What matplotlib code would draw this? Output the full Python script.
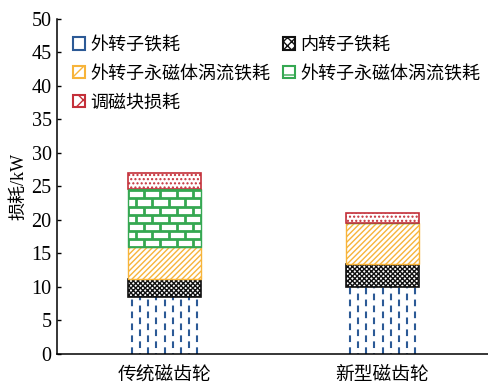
import matplotlib.pyplot as plt
import numpy as np
from matplotlib.patches import Patch

plt.rcParams['font.family'] = ['Liberation Serif', 'Noto Sans CJK SC']
plt.rcParams['font.size'] = 13
plt.rcParams['hatch.linewidth'] = 1.0
plt.rcParams['lines.scale_dashes'] = False

# losses in kW for each gear, stacked bottom to top
gears = ['传统磁齿轮', '新型磁齿轮']
outer_iron = [8.5, 10.0]
inner_iron = [2.7, 3.4]
pm_eddy_1 = [4.8, 6.2]
pm_eddy_2 = [8.6, 0.0]
modulator = [2.4, 1.4]
loss_names = ['外转子铁耗', '内转子铁耗', '外转子永磁体涡流铁耗',
              '外转子永磁体涡流铁耗', '调磁块损耗']

BLUE = '#2c5a96'
BLACK = '#111111'
ORANGE = '#f7b43a'
GREEN = '#35a852'
RED = '#c4303a'

fig = plt.figure(figsize=(4.88, 3.86), dpi=100)
ax = fig.add_axes([0.117, 0.083, 0.883, 0.868])

x = np.arange(len(gears))
w = 0.335


def dashed_fill(ax, xc, top, color, ncol=9):
    # staggered vertical dashes
    left = xc - w / 2
    for k in range(ncol):
        xx = left + (k + 0.5) * w / ncol
        off = 0 if k % 2 == 0 else 4.3
        ax.vlines(xx, 0, top, colors=color, linewidth=1.5,
                  linestyles=[(off, (4.8, 3.8))], zorder=2)


def brick_fill(ax, bar, xc, y0, h, color):
    # brick pattern clipped to the bar rectangle
    left = xc - w / 2
    row = 1.2
    bw = w / 4.5
    ys = np.arange(y0, y0 + h + 1e-6, row)
    hl = ax.hlines(ys, left, left + w, colors=color, linewidth=2.0, zorder=3)
    hl.set_clip_path(bar)
    for r, yb in enumerate(ys[:-1]):
        shift = 0 if r % 2 == 0 else bw / 2
        xs = np.arange(left + shift, left + w + bw, bw)
        vl = ax.vlines(xs, yb, yb + row, colors=color, linewidth=2.0, zorder=3)
        vl.set_clip_path(bar)


for i in range(len(gears)):
    ax.bar(x[i], outer_iron[i], w, color='white', linewidth=0, zorder=1)
    dashed_fill(ax, x[i], outer_iron[i], BLUE)

b1 = np.array(outer_iron)
ax.bar(x, inner_iron, w, bottom=b1, facecolor='white', edgecolor=BLACK,
       hatch='xxxxxxx', linewidth=1.2, zorder=2)
b2 = b1 + np.array(inner_iron)
ax.bar(x, pm_eddy_1, w, bottom=b2, facecolor='white', edgecolor=ORANGE,
       hatch='//////', linewidth=1.0, zorder=2)
b3 = b2 + np.array(pm_eddy_1)
green_bars = ax.bar(x, pm_eddy_2, w, bottom=b3, facecolor='white',
                    edgecolor=GREEN, linewidth=1.0, zorder=2)
for i, bar in enumerate(green_bars):
    if pm_eddy_2[i] > 0:
        brick_fill(ax, bar, x[i], b3[i], pm_eddy_2[i], GREEN)
b4 = b3 + np.array(pm_eddy_2)
ax.bar(x, modulator, w, bottom=b4, facecolor='white', edgecolor=RED,
       hatch='....', linewidth=1.2, zorder=2)

handles = [
    Patch(facecolor='white', edgecolor=BLUE, linewidth=1.5),
    Patch(facecolor='white', edgecolor=ORANGE, hatch='//', linewidth=1.5),
    Patch(facecolor='white', edgecolor=RED, hatch='xx', linewidth=1.5),
    Patch(facecolor='white', edgecolor=BLACK, hatch='xxxx', linewidth=1.5),
    Patch(facecolor='white', edgecolor=GREEN, hatch='-', linewidth=1.5),
]
order = [loss_names[0], loss_names[2], loss_names[4], loss_names[1], loss_names[3]]
ax.legend(handles, order, ncol=2, frameon=False, loc='upper left',
          bbox_to_anchor=(0.0, 0.995), handlelength=0.65, handleheight=0.65,
          handletextpad=0.3, columnspacing=0.7, labelspacing=0.65)

ax.set_xlim(-0.493, 1.484)
ax.set_ylim(0, 50)
ax.set_yticks(np.arange(0, 51, 5))
ax.set_xticks(x)
ax.set_xticklabels(gears, fontsize=13.5)
ax.set_ylabel('损耗/kW', labelpad=3)
ax.tick_params(axis='y', direction='in', length=3, width=1, pad=4,
               labelsize=14.5)
ax.tick_params(axis='x', length=0, pad=9)
for s in ['top', 'right']:
    ax.spines[s].set_visible(False)
for s in ['left', 'bottom']:
    ax.spines[s].set_linewidth(1.1)

fig.savefig('out.png', dpi=100)
